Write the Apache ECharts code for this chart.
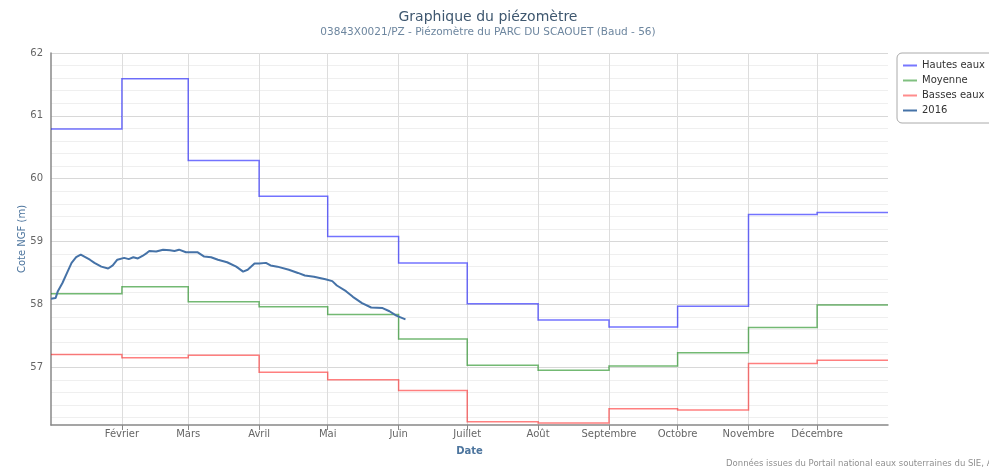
<!DOCTYPE html>
<html>
<head>
<meta charset="utf-8">
<script src="https://cdn.jsdelivr.net/npm/echarts@6/dist/echarts.min.js"></script>
<style>html,body{margin:0;padding:0;background:#fff;}#c{width:989px;height:469px;}</style>
</head>
<body>
<div id="c"></div>
<script>
// Day-of-year (2016) at which each monthly step starts; last entry = end of year
var monthStarts = [0, 31, 60, 91, 121, 152, 182, 213, 244, 274, 305, 335, 366];
var monthTicks = [31, 60, 91, 121, 152, 182, 213, 244, 274, 305, 335];
var monthNames = ['Février', 'Mars', 'Avril', 'Mai', 'Juin', 'Juillet', 'Août', 'Septembre', 'Octobre', 'Novembre', 'Décembre'];

// Monthly statistics (Jan..Dec)
var hautesEaux = [60.79, 61.59, 60.29, 59.72, 59.08, 58.66, 58.01, 57.75, 57.64, 57.97, 59.43, 59.46];
var moyenne    = [58.17, 58.28, 58.04, 57.96, 57.84, 57.45, 57.03, 56.95, 57.02, 57.23, 57.63, 57.99];
var bassesEaux = [57.20, 57.15, 57.19, 56.92, 56.80, 56.63, 56.13, 56.11, 56.34, 56.32, 57.06, 57.11];

// 2016 measurements (day of year, level)
var days2016 = [0, 2, 3, 5, 7, 9, 11, 13, 15, 17, 19, 22, 25, 27, 29, 32, 34, 36, 38, 40, 42, 43, 46, 49, 52, 54, 56, 59, 62, 64, 67, 70, 73, 77, 81, 84, 86, 89, 91, 94, 96, 99, 104, 108, 111, 115, 120, 123, 125, 129, 132, 136, 140, 145, 148, 151, 155];
var level2016 = [58.09, 58.10, 58.21, 58.34, 58.50, 58.66, 58.75, 58.79, 58.75, 58.71, 58.66, 58.60, 58.57, 58.62, 58.71, 58.74, 58.72, 58.75, 58.73, 58.77, 58.82, 58.85, 58.84, 58.87, 58.86, 58.85, 58.87, 58.83, 58.83, 58.83, 58.76, 58.75, 58.71, 58.67, 58.60, 58.52, 58.55, 58.65, 58.65, 58.66, 58.62, 58.60, 58.55, 58.50, 58.46, 58.44, 58.40, 58.37, 58.30, 58.21, 58.12, 58.02, 57.95, 57.94, 57.89, 57.82, 57.76];

// Y axis ticks (gridlines every 0.2, labels every 1)
var yGridTicks = [56.2, 56.4, 56.6, 56.8, 57, 57.2, 57.4, 57.6, 57.8, 58, 58.2, 58.4, 58.6, 58.8, 59, 59.2, 59.4, 59.6, 59.8, 60, 60.2, 60.4, 60.6, 60.8, 61, 61.2, 61.4, 61.6, 61.8, 62];
var yLabelTicks = [57, 58, 59, 60, 61, 62];

var C_HAUT = 'rgba(0,0,255,0.55)';
var C_MOY = 'rgba(0,128,0,0.55)';
var C_BAS = 'rgba(255,0,0,0.5)';
var C_2016 = '#4572A7';

// Build a step polyline (value held over each month) in data space
function stepCoords(vals) {
  var out = [];
  for (var i = 0; i < vals.length; i++) {
    out.push([monthStarts[i], vals[i]]);
    out.push([monthStarts[i + 1], vals[i]]);
  }
  return out;
}
var line2016 = days2016.map(function (d, i) { return [d, level2016[i]]; });

function stepSeries(name, vals, color) {
  return {
    name: name, type: 'lines', coordinateSystem: 'cartesian2d', polyline: true,
    silent: true, z: 3,
    lineStyle: { color: color, width: 1.5, opacity: 1, join: 'miter' },
    data: [{ coords: stepCoords(vals) }]
  };
}

var FONT = 'DejaVu Sans';
var chart = echarts.init(document.getElementById('c'), null, { renderer: 'canvas' });
chart.setOption({
  animation: false,
  backgroundColor: '#fff',
  textStyle: { fontFamily: FONT },
  title: {
    text: 'Graphique du piézomètre',
    subtext: '03843X0021/PZ - Piézomètre du PARC DU SCAOUET (Baud - 56)',
    left: 488, top: 10, textAlign: 'center', padding: 0, itemGap: 3,
    textStyle: { fontFamily: FONT, fontSize: 14, fontWeight: 'normal', color: '#3E576F' },
    subtextStyle: { fontFamily: FONT, fontSize: 10.5, color: '#6D869F' }
  },
  legend: {
    orient: 'vertical', left: 897, top: 53,
    padding: [6, 40, 6, 6], itemGap: 2,
    icon: 'rect', itemWidth: 14, itemHeight: 2,
    itemStyle: { borderWidth: 0 },
    lineStyle: { width: 0 },
    borderColor: '#aaa', borderWidth: 1, borderRadius: 5,
    textStyle: { fontFamily: FONT, fontSize: 10, color: '#333', lineHeight: 13 },
    data: [
      { name: 'Hautes eaux', itemStyle: { color: '#7777ff', borderWidth: 0 } },
      { name: 'Moyenne', itemStyle: { color: '#80c080', borderWidth: 0 } },
      { name: 'Basses eaux', itemStyle: { color: '#ff8c8c', borderWidth: 0 } },
      { name: '2016', itemStyle: { color: C_2016, borderWidth: 0 } }
    ]
  },
  grid: { left: 51, top: 53, right: 101, bottom: 44, containLabel: false },
  xAxis: {
    type: 'value', min: 0, max: 366,
    name: 'Date', nameLocation: 'middle', nameGap: 21, nameMoveOverlap: false,
    nameTextStyle: { fontFamily: FONT, fontSize: 10, fontWeight: 'bold', color: '#4d759e' },
    axisLine: { show: true, lineStyle: { color: '#888', width: 1.5 } },
    axisTick: { show: true, customValues: monthTicks, length: 5, lineStyle: { color: '#888' } },
    axisLabel: {
      customValues: monthTicks, margin: 4,
      fontFamily: FONT, fontSize: 10, color: '#666',
      formatter: function (v) { var i = monthTicks.indexOf(v); return i >= 0 ? monthNames[i] : ''; }
    },
    splitLine: { show: true, lineStyle: { color: '#ddd', width: 1 } }
  },
  yAxis: {
    type: 'value', min: 56.08, max: 62,
    name: 'Cote NGF (m)', nameLocation: 'middle', nameGap: 24, nameMoveOverlap: false,
    nameTextStyle: { fontFamily: FONT, fontSize: 10, color: '#4d759e' },
    axisLine: { show: true, lineStyle: { color: '#888', width: 1.5 } },
    axisTick: { show: false, customValues: yGridTicks },
    axisLabel: { customValues: yLabelTicks, margin: 8, fontFamily: FONT, fontSize: 10, color: '#666' },
    splitLine: { show: true, lineStyle: { color: ['#efefef', '#efefef', '#efefef', '#efefef', '#d8d8d8'], width: 1 } }
  },
  graphic: [{
    type: 'text', left: 726, top: 459,
    style: { text: 'Données issues du Portail national eaux souterraines du SIE, ADES', fontFamily: FONT, fontSize: 8.5, fill: '#909090' }
  }],
  series: [
    stepSeries('Hautes eaux', hautesEaux, C_HAUT),
    stepSeries('Moyenne', moyenne, C_MOY),
    stepSeries('Basses eaux', bassesEaux, C_BAS),
    { name: '2016', type: 'line', showSymbol: false, symbol: 'none', data: line2016, z: 5,
      lineStyle: { color: C_2016, width: 2 }, itemStyle: { color: C_2016 } }
  ]
});
</script>
</body>
</html>
